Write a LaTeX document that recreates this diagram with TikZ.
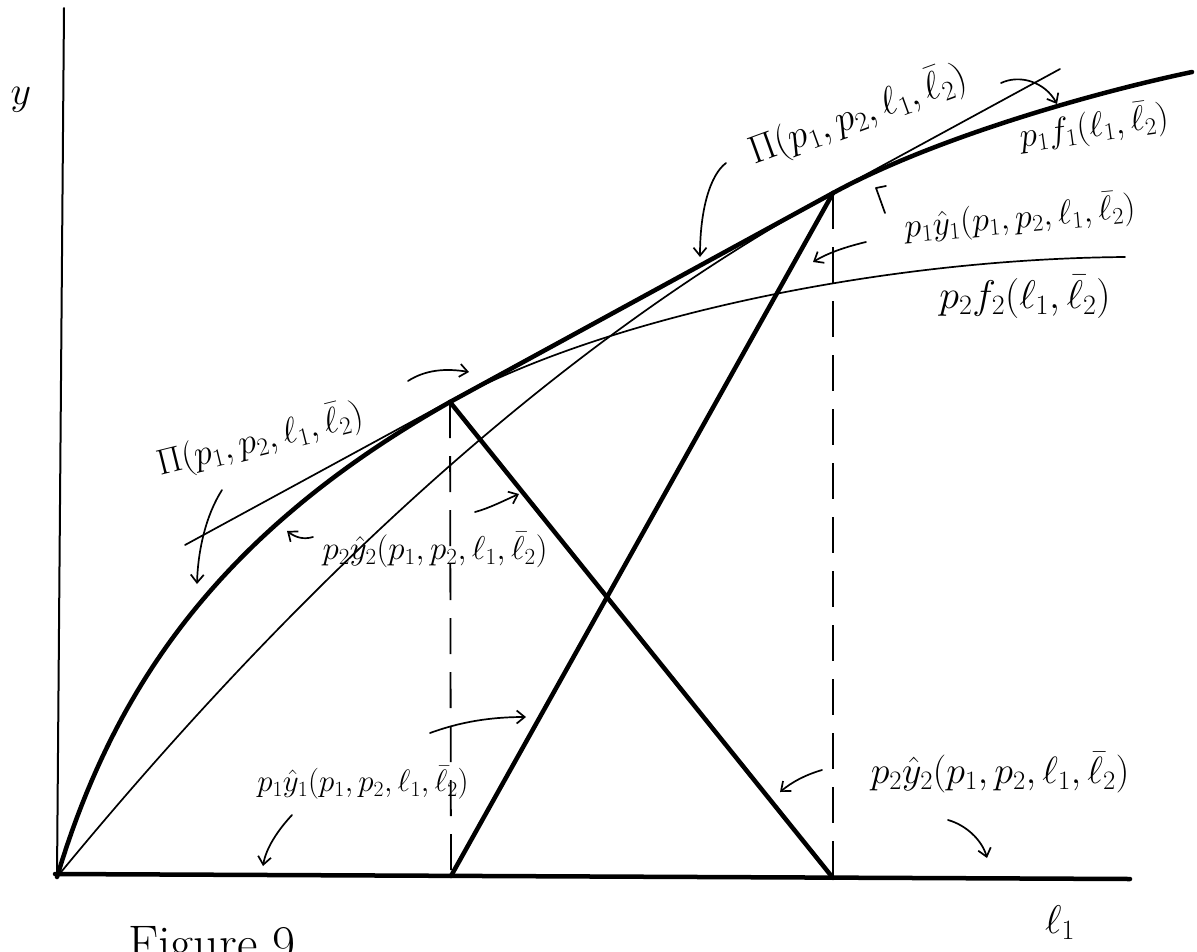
\RequirePackage{fix-cm}
\documentclass[tikz,border=0pt]{standalone}
\usetikzlibrary{arrows.meta}
\newcommand\fsz[1]{\fontsize{#1}{#1}\selectfont}
\begin{document}
\begin{tikzpicture}[x=1pt,y=-1pt,
  thinln/.style={line width=1.7pt, line cap=round, line join=round},
  thickln/.style={line width=4.5pt, line cap=round, line join=round},
  dashln/.style={line width=1.8pt, dash pattern=on 36pt off 18pt},
  pointer/.style={line width=1.7pt, line cap=round, -{Straight Barb[length=8pt,width=13pt]}},
  lbl/.style={inner sep=0pt, text=black},
]
\useasboundingbox (0,0) rectangle (1197,951);
% key points
\coordinate (O) at (57,877);
\coordinate (A) at (450,402);
\coordinate (B) at (833,193);
\coordinate (Abase) at (451,876);
\coordinate (Bbase) at (833,878);
\coordinate (Ytop) at (64,8);
\coordinate (Xend) at (1130,879);
\coordinate (Xstart) at (55,874);
\coordinate (Tl) at (185,545);
\coordinate (Tr) at (1060,69);
\coordinate (F2end) at (1125,257);
\coordinate (F1end) at (1192,72);

% axes
\draw[thinln, line width=2pt] (O) -- (Ytop);
\draw[thickln] (Xstart) -- (Xend);
% dashed verticals
\draw[dashln] (A) -- ([yshift=-8pt]Abase);
\draw[dashln] (B) -- ([yshift=-8pt]Bbase);
% value lines
\draw[thickln] (Abase) -- (B);
\draw[thickln] (A) -- (Bbase);
\draw[thickln] (A) -- (B);
% common tangent
\draw[thinln] (Tl) -- (Tr);
% p2 f2 : thick up to A, thin afterwards
\draw[thickln] plot[domain=0:393, samples=80] ({57+\x},{877-267.3*ln(1+\x/80)});
\draw[thinln] (A) .. controls (600,319.5) and (875,259) .. (F2end);
% p1 f1 : thin up to B, thick afterwards
\draw[thinln] plot[domain=0:776, samples=90] ({57+\x},{877-1.217*\x+(0.020797*\x)^2});
\draw[thickln] (B) .. controls (933,138.4) and (1092,93) .. (F1end);

% labels
\node[lbl, rotate=20] (PiTop) at (858,115) {\fsz{39}$\Pi(p_1,p_2,\ell_1,\bar\ell_2)$};
\node[lbl, rotate=8] (F1lab) at (1094,127) {\fsz{35}$p_1f_1(\ell_1,\bar\ell_2)$};
\node[lbl, rotate=5] (Y1up) at (1020,218) {\fsz{34}$p_1\hat y_1(p_1,p_2,\ell_1,\bar\ell_2)$};
\node[lbl] (F2lab) at (1025,297) {\fsz{40}$p_2f_2(\ell_1,\bar\ell_2)$};
\node[lbl, rotate=14] (PiLeft) at (260,440) {\fsz{36}$\Pi(p_1,p_2,\ell_1,\bar\ell_2)$};
\node[lbl] (Y2mid) at (435,550) {\fsz{33}$p_2\hat y_2(p_1,p_2,\ell_1,\bar\ell_2)$};
\node[lbl] (Y1low) at (363,783) {\fsz{31}$p_1\hat y_1(p_1,p_2,\ell_1,\bar\ell_2)$};
\node[lbl] (Y2low) at (1000,773) {\fsz{38}$p_2\hat y_2(p_1,p_2,\ell_1,\bar\ell_2)$};
\node[lbl] (ylab) at (21,100) {\fsz{40}$y$};
\node[lbl] (xlab) at (1060,923) {\fsz{40}$\ell_1$};
\node[lbl, anchor=north west] (fig) at (128,926) {\fsz{50}Figure 9};

% pointers
\draw[pointer] (726,163) .. controls (710,175) and (700,210) .. (700,257);
\draw[pointer] (1001,83) .. controls (1020,74) and (1045,82) .. (1057,104);
\draw[thinln] (885,213) -- (876,188) -- (886,186);
\draw[pointer] (866,242) .. controls (845,247) and (828,253) .. (813,262);
\draw[pointer] (222,490) .. controls (206,515) and (198,550) .. (197,584);
\draw[pointer] (408,381) .. controls (425,370) and (445,368) .. (469,372);
\draw[pointer] (313,537) .. controls (303,540) and (295,537) .. (287,531);
\draw[pointer] (475,512) .. controls (490,508) and (505,500) .. (519,494);
\draw[pointer] (292,815) .. controls (278,830) and (266,848) .. (263,866);
\draw[pointer] (430,733) .. controls (460,722) and (490,717) .. (526,717);
\draw[pointer] (822,770) .. controls (805,775) and (792,782) .. (780,792);
\draw[pointer] (948,820) .. controls (966,825) and (982,840) .. (987,858);
\end{tikzpicture}
\end{document}
